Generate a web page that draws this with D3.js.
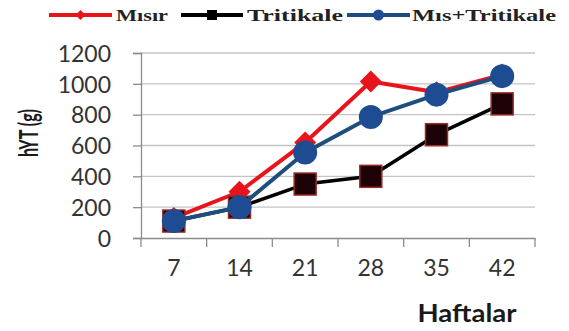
<!DOCTYPE html>
<html>
<head>
<meta charset="utf-8">
<script src="https://cdn.jsdelivr.net/npm/d3@7"></script>
<style>
  body { margin: 0; background: #fff; }
  svg { display: block; }
</style>
</head>
<body>
<div id="chart"></div>
<script>

// data
var weeks = ["7", "14", "21", "28", "35", "42"];
var misir = [130, 300, 620, 1015, 945, 1060];
var tritikale = [110, 200, 350, 400, 670, 870];
var karisim = [110, 200, 555, 785, 930, 1050];
var yTicks = [0, 200, 400, 600, 800, 1000, 1200];

var seriesNames = ["M\u0131s\u0131r", "Tritikale", "M\u0131s+Tritikale"];

var width = 569, height = 331;
var margin = {top: 53, right: 34, bottom: 93, left: 141};

var svg = d3.select("#chart").append("svg")
	.attr("width", width)
	.attr("height", height);

var x = d3.scaleBand()
	.domain(weeks)
	.range([margin.left, width - margin.right]);

var y = d3.scaleLinear()
	.domain([0, 1200])
	.range([height - margin.bottom, margin.top]);

// gridlines
svg.append("g")
	.selectAll("line")
	.data(yTicks.slice(1))
	.enter().append("line")
	.attr("x1", margin.left)
	.attr("x2", width - margin.right)
	.attr("y1", function(d) { return y(d); })
	.attr("y2", function(d) { return y(d); })
	.attr("stroke", "#c4c4c4")
	.attr("stroke-width", 1.3);

// y axis
var yAxis = svg.append("g")
	.attr("transform", "translate(" + margin.left + ",0)")
	.call(d3.axisLeft(y).tickValues(yTicks).tickFormat(d3.format("d")).tickSize(8).tickPadding(22));

// x axis
var xAxis = svg.append("g")
	.attr("transform", "translate(0," + y(0) + ")")
	.call(d3.axisBottom(x).tickSize(0).tickPadding(26));

// x ticks between categories
svg.append("g")
	.selectAll("line")
	.data(d3.range(weeks.length + 1))
	.enter().append("line")
	.attr("x1", function(i) { return margin.left + i * x.step(); })
	.attr("x2", function(i) { return margin.left + i * x.step(); })
	.attr("y1", y(0))
	.attr("y2", y(0) + 9)
	.attr("stroke", "#8c8c8c")
	.attr("stroke-width", 1.3);

[yAxis, xAxis].forEach(function(a) {
	a.selectAll(".domain").attr("stroke", "#8c8c8c").attr("stroke-width", 1.3);
	a.selectAll(".tick line").attr("stroke", "#8c8c8c").attr("stroke-width", 1.3);
	a.selectAll("text")
		.attr("font-family", "Lato, 'Open Sans', sans-serif")
		.attr("font-size", 23)
		.attr("fill", "#333");
});
yAxis.selectAll("text").attr("dy", "0.36em");
xAxis.selectAll("text").attr("dy", "0.5em");

// axis titles
svg.append("text")
	.attr("transform", "translate(38,133) rotate(-90)")
	.attr("text-anchor", "middle")
	.attr("font-family", "Lato, sans-serif")
	.attr("font-weight", "bold")
	.attr("font-size", 26)
	.attr("textLength", 48)
	.attr("lengthAdjust", "spacingAndGlyphs")
	.attr("fill", "#1a1a1a")
	.text("hYT (g)");

svg.append("text")
	.attr("x", 467)
	.attr("y", 322)
	.attr("text-anchor", "middle")
	.attr("font-family", "Lato, sans-serif")
	.attr("font-weight", "bold")
	.attr("font-size", 24)
	.attr("textLength", 99)
	.attr("lengthAdjust", "spacingAndGlyphs")
	.attr("fill", "#1a1a1a")
	.text("Haftalar");

// lines
var line = d3.line()
	.x(function(d, i) { return x(weeks[i]) + x.bandwidth() / 2; })
	.y(function(d) { return y(d); });

function drawSeries(values, color, lw) {
	svg.append("path")
		.datum(values)
		.attr("fill", "none")
		.attr("stroke", color)
		.attr("stroke-width", lw)
		.attr("stroke-linejoin", "round")
		.attr("d", line);
}

var cx = function(d, i) { return x(weeks[i]) + x.bandwidth() / 2; };

// Mısır - red diamonds
drawSeries(misir, "#e8141c", 4);
svg.append("g").selectAll("path")
	.data(misir)
	.enter().append("path")
	.attr("transform", function(d, i) { return "translate(" + cx(d, i) + "," + y(d) + ")"; })
	.attr("d", "M0,-11L11,0L0,11L-11,0Z")
	.attr("fill", "#e8141c");

// Tritikale - black squares
drawSeries(tritikale, "#000000", 3.5);
svg.append("g").selectAll("rect")
	.data(tritikale)
	.enter().append("rect")
	.attr("x", function(d, i) { return cx(d, i) - 11; })
	.attr("y", function(d) { return y(d) - 11; })
	.attr("width", 22)
	.attr("height", 22)
	.attr("fill", "#1c0206")
	.attr("stroke", "#9a2a2a")
	.attr("stroke-width", 1.5);

// Mıs+Tritikale - blue circles
drawSeries(karisim, "#1f4e7e", 4);
svg.append("g").selectAll("circle")
	.data(karisim)
	.enter().append("circle")
	.attr("cx", cx)
	.attr("cy", function(d) { return y(d); })
	.attr("r", 12)
	.attr("fill", "#1e4c92");

// legend
var legend = [
	{line: [49, 112], text: [116, 52], color: "#e8141c", mark: "diamond"},
	{line: [181, 243], text: [247, 96], color: "#000000", mark: "square"},
	{line: [347, 410], text: [412, 144], color: "#1f4e7e", mark: "circle"}
];
var ly = 15;
legend.forEach(function(l, i) {
	var g = svg.append("g");
	var mx = (l.line[0] + l.line[1]) / 2;
	g.append("line")
		.attr("x1", l.line[0]).attr("x2", l.line[1])
		.attr("y1", ly).attr("y2", ly)
		.attr("stroke", l.color)
		.attr("stroke-width", 4);
	if (l.mark === "diamond") {
		g.append("path")
			.attr("transform", "translate(" + mx + "," + ly + ")")
			.attr("d", "M0,-5L5,0L0,5L-5,0Z")
			.attr("fill", l.color);
	} else if (l.mark === "square") {
		g.append("rect")
			.attr("x", mx - 5).attr("y", ly - 5)
			.attr("width", 10).attr("height", 10)
			.attr("fill", "#000");
	} else {
		g.append("circle")
			.attr("cx", mx).attr("cy", ly).attr("r", 5.5)
			.attr("fill", "#1e4c92");
	}
	g.append("text")
		.attr("x", l.text[0])
		.attr("y", ly + 6)
		.attr("font-family", "'Liberation Serif', 'DejaVu Serif', serif")
		.attr("font-weight", "bold")
		.attr("font-size", 17)
		.attr("textLength", l.text[1])
		.attr("lengthAdjust", "spacingAndGlyphs")
		.attr("fill", "#222")
		.text(seriesNames[i]);
});

</script>
</body>
</html>
